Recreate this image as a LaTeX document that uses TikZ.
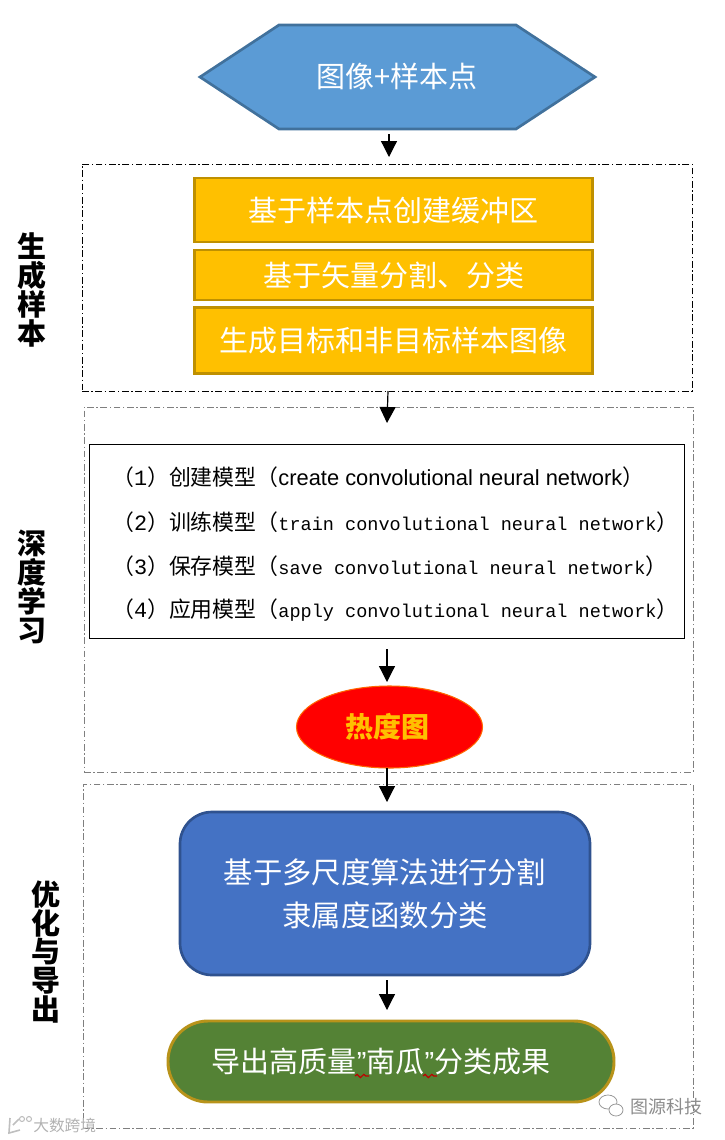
\documentclass[tikz,border=0pt]{standalone}
\usepackage{fontspec}
\setmainfont{Noto Sans CJK SC}
\newfontfamily\latinsans{Liberation Sans}
\newfontfamily\latinmono{Liberation Mono}
\usetikzlibrary{arrows.meta,decorations.pathmorphing,shapes.geometric}
\def\u{0.75pt}
\definecolor{hexfill}{HTML}{5B9BD5}
\definecolor{hexline}{HTML}{41719C}
\definecolor{ambfill}{HTML}{FFC000}
\definecolor{ambline}{HTML}{BF9000}
\definecolor{bluefill}{HTML}{4472C4}
\definecolor{blueline}{HTML}{2F528F}
\definecolor{greenfill}{HTML}{548235}
\definecolor{greenline}{HTML}{B8931A}
\definecolor{groupgrey}{HTML}{7F7F7F}
\tikzset{
  conn/.style={draw=black,line width=0.9pt,-{Triangle[length=12pt,width=12pt]}},
  groupbox/.style={draw=#1,line width=0.6pt,dash pattern=on 5pt off 2pt on 1pt off 2pt},
  ambbox/.style={draw=ambline,fill=ambfill,line width=2pt,minimum width=398*\u,inner sep=0pt,text=white,font=\fontsize{21.75pt}{26pt}\selectfont},
  whitetext/.style={text=white,font=\fontsize{21.75pt}{32.25pt}\selectfont,align=center,inner sep=0pt},
  sidelabel/.style={font=\fontsize{21.75pt}{21.6pt}\selectfont\bfseries,align=center,inner sep=0pt},
  modelline/.style={anchor=west,inner sep=0pt,font=\fontsize{16.4pt}{20pt}\selectfont},
  squiggle/.style={draw=red!75!black,line width=0.9pt,decorate,decoration={snake,amplitude=1.2pt,segment length=5pt}},
  wmark/.style={inner sep=0pt,text=black!45,font=\fontsize{13.5pt}{15pt}\selectfont},
}
\begin{document}
\begin{tikzpicture}[x=\u,y=-\u]
\useasboundingbox (0,0) rectangle (725,1140);
% start hexagon
\draw[fill=hexfill,draw=hexline,line width=2pt,line join=miter] (200,77) -- (279,25) -- (516,25) -- (595,77) -- (516,129) -- (279,129) -- cycle;
\node[whitetext] (hex) at (397,76) {图像+样本点};
% groups
\node[groupbox=black,minimum width=610*\u,minimum height=227*\u,inner sep=0pt] (g1) at (387,277.5) {};
\node[groupbox=groupgrey,minimum width=609*\u,minimum height=365*\u,inner sep=0pt] (g2) at (388.5,589.5) {};
\node[groupbox=groupgrey,minimum width=610*\u,minimum height=344*\u,inner sep=0pt] (g3) at (388,956) {};
% amber boxes
\node[ambbox,minimum height=64*\u] (b1) at (393.5,210) {基于样本点创建缓冲区};
\node[ambbox,minimum height=50*\u] (b2) at (393.5,275) {基于矢量分割、分类};
\node[ambbox,minimum height=66*\u] (b3) at (393.5,340.5) {生成目标和非目标样本图像};
% model list
\node[draw=black,line width=0.75pt,minimum width=595*\u,minimum height=194*\u,inner sep=0pt] (model) at (387,541) {};
\node[modelline] (m1) at (112,477) {（{\latinmono 1}）创建模型（{\latinsans create convolutional neural network}）};
\node[modelline] (m2) at (112,522) {（{\latinmono 2}）训练模型（{\latinmono\fontsize{13.9pt}{20pt}\selectfont train convolutional neural network}）};
\node[modelline] (m3) at (112,566) {（{\latinmono 3}）保存模型（{\latinmono\fontsize{13.9pt}{20pt}\selectfont save convolutional neural network}）};
\node[modelline] (m4) at (112,610) {（{\latinmono 4}）应用模型（{\latinmono\fontsize{13.9pt}{20pt}\selectfont apply convolutional neural network}）};
% heat map
\node[ellipse,draw=orange!80!red,fill=red,line width=0.8pt,minimum width=186*\u,minimum height=82*\u,inner sep=0pt,text=ambfill,font=\fontsize{21pt}{24pt}\selectfont\bfseries] (heat) at (389.5,727) {热度图\hspace*{3pt}};
% blue box
\node[draw=blueline,fill=bluefill,line width=2pt,rounded corners=24pt,minimum width=410*\u,minimum height=163*\u,inner sep=0pt,whitetext,align=center,font=\fontsize{22pt}{32.25pt}\selectfont] (seg) at (385,893.5) {基于多尺度算法进行分割\\隶属度函数分类};
% result
\node[draw=greenline,fill=greenfill,line width=2.2pt,rounded corners=30pt,minimum width=446*\u,minimum height=81*\u,inner sep=0pt,whitetext] (res) at (391,1061.5) {\raisebox{-1pt}{导出高质量{\latinsans ”}南瓜{\latinsans ”}分类成果}\hspace*{15pt}};
\coordinate (sq1a) at (355,1076); \coordinate (sq1b) at (369,1076);
\coordinate (sq2a) at (423,1076); \coordinate (sq2b) at (437,1076);
\draw[squiggle] (sq1a) -- (sq1b);
\draw[squiggle] (sq2a) -- (sq2b);
% connectors
\coordinate (a1s) at (389,134); \coordinate (a1e) at (389,157);
\coordinate (a2s) at (388,391); \coordinate (a2e) at (387,423);
\coordinate (a3s) at (387,649); \coordinate (a3e) at (387,682);
\coordinate (a4s) at (387,768); \coordinate (a4e) at (387,802);
\coordinate (a5s) at (387,980); \coordinate (a5e) at (387,1010);
\draw[conn] (a1s) -- (a1e);
\draw[conn] (a2s) -- (a2e);
\draw[conn] (a3s) -- (a3e);
\draw[conn] (a4s) -- (a4e);
\draw[conn] (a5s) -- (a5e);
% side labels
\node[sidelabel] (l1) at (32,290) {生\\成\\样\\本};
\node[sidelabel] (l2) at (32,587) {深\\度\\学\\习};
\node[sidelabel] (l3) at (46,952) {优\\化\\与\\导\\出};
% watermarks
\node[wmark,anchor=west] (wm1) at (630,1107) {图源科技};
\node[wmark,anchor=west,text=black!30,font=\fontsize{11.8pt}{15pt}\selectfont] (wm2) at (33,1125) {大数跨境};
\draw[black!40,line width=0.6pt] (608,1102) ellipse [x radius=9,y radius=7];
\draw[black!40,line width=0.6pt,fill=white] (616,1110) ellipse [x radius=7,y radius=6];
\draw[black!25,line width=1.2pt] (10,1118) -- (9,1133) -- (20,1130) (13,1125) -- (19,1119);
\draw[black!25,line width=0.8pt] (22,1119) circle [radius=2.5] (29,1119) circle [radius=2.5];
\end{tikzpicture}
\end{document}
